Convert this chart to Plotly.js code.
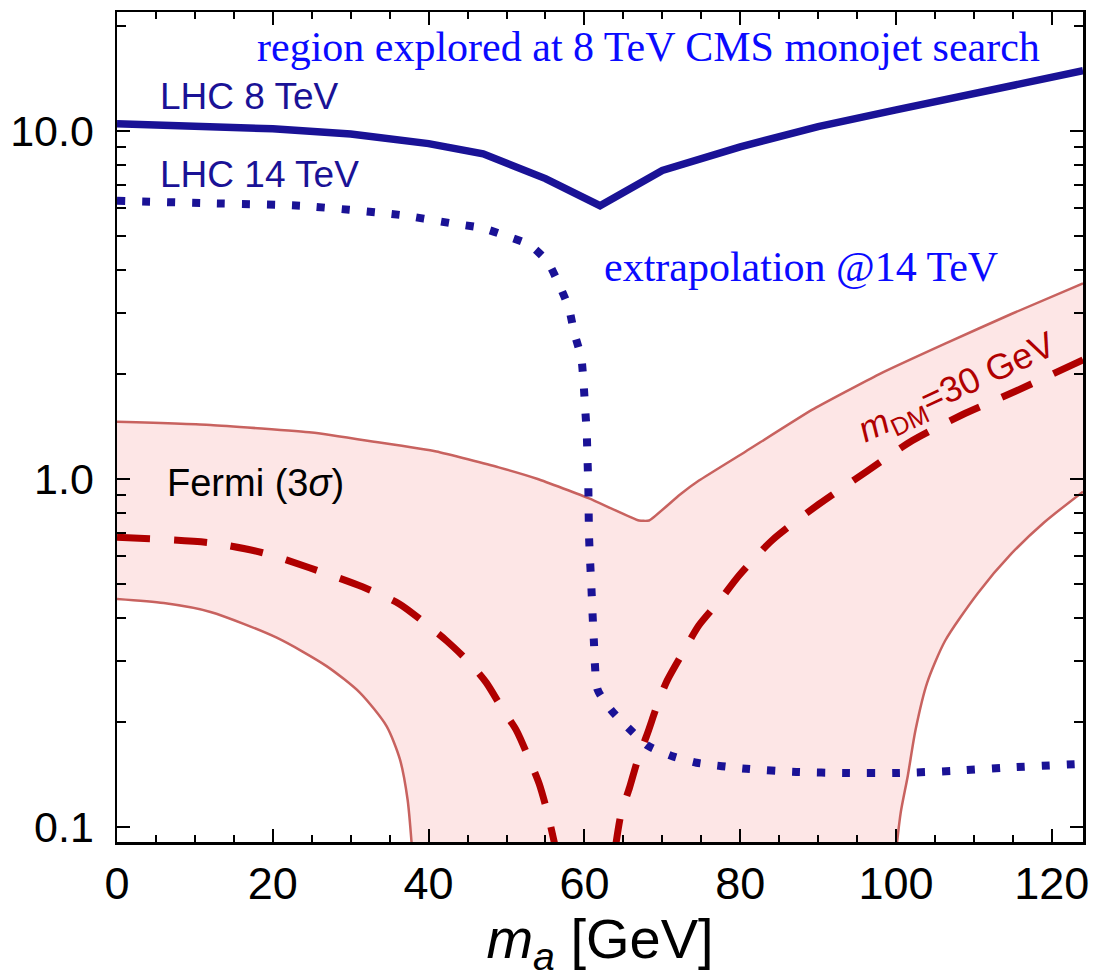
<!DOCTYPE html>
<html>
<head>
<meta charset="utf-8">
<script src="https://cdn.plot.ly/plotly-3.0.1.min.js"></script>
<style>html,body{margin:0;padding:0;background:#fff;}</style>
</head>
<body>
<div id="chart" style="width:1099px;height:978px;"></div>
<script>
// LHC 8 TeV monojet bound (solid)
const lhc8X = [0, 10, 20, 30, 40, 47, 55, 62, 70, 80, 90, 100, 110, 124];
const lhc8Y = [10.5, 10.35, 10.15, 9.8, 9.2, 8.6, 7.3, 6.1, 7.7, 9.0, 10.3, 11.5, 12.8, 14.9];

// LHC 14 TeV extrapolation (dotted)
const lhc14X = [0, 12, 23.5, 36.3, 42.7, 46.9, 50, 53, 55.3, 56.8, 58, 58.7, 59.6, 59.9, 60.1, 60.3, 60.4, 60.5, 60.6, 60.9, 61.2, 61.7, 63.5, 65.8, 68.2, 71.2, 74.4, 80.8, 87.2, 93.6, 100.4, 107.3, 113.7, 124];
const lhc14Y = [6.3, 6.2, 6.1, 5.74, 5.44, 5.26, 4.99, 4.7, 4.2, 3.6, 3.1, 2.63, 2.23, 1.87, 1.59, 1.35, 1.13, 0.955, 0.677, 0.486, 0.347, 0.248, 0.216, 0.191, 0.171, 0.16, 0.153, 0.147, 0.144, 0.143, 0.143, 0.145, 0.148, 0.152];

// Fermi (3 sigma) band: upper boundary, left of the kink and right of it
const bandUpLX = [0, 12, 25, 33, 41, 49, 54, 60.6, 67];
const bandUpLY = [1.46, 1.43, 1.36, 1.28, 1.2, 1.08, 1.0, 0.88, 0.76];
const bandUpRX = [68.3, 72.2, 74.7, 80.7, 89.2, 97.8, 106.3, 114.8, 124];
const bandUpRY = [0.76, 0.9, 0.99, 1.2, 1.58, 2.0, 2.45, 2.98, 3.65];

// Fermi band: lower boundary, left branch
const bandLowLX = [0, 6, 12, 20.5, 26.9, 31.2, 34.6, 36.3, 37.3, 37.9];
const bandLowLY = [0.452, 0.44, 0.415, 0.35, 0.29, 0.243, 0.195, 0.157, 0.12, 0.085];

// Fermi band: lower boundary, right branch
const bandLowRX = [100, 100.6, 101.5, 102.5, 104, 106.3, 110.5, 114.8, 119, 124];
const bandLowRY = [0.085, 0.11, 0.14, 0.19, 0.26, 0.343, 0.47, 0.61, 0.75, 0.92];

// m_DM = 30 GeV (dashed), left and right branches
const dmLX = [0, 11.9, 18.7, 24.7, 31.5, 36.3, 39.7, 42.3, 45.3, 47.4, 49.5, 51.3, 53, 54.2, 55.3, 56.4];
const dmLY = [0.68, 0.656, 0.614, 0.556, 0.49, 0.437, 0.383, 0.343, 0.296, 0.26, 0.218, 0.189, 0.155, 0.133, 0.109, 0.085];
const dmRX = [63.9, 64.7, 65.8, 66.8, 68.1, 69.4, 70.6, 72.6, 74.7, 77.3, 79.9, 84.1, 90.1, 96.2, 102.1, 108.5, 115.4, 124];
const dmRY = [0.085, 0.109, 0.13, 0.155, 0.186, 0.226, 0.263, 0.316, 0.38, 0.446, 0.53, 0.667, 0.847, 1.05, 1.29, 1.53, 1.79, 2.2];

// Axis ticks
const xTickVals = [0, 20, 40, 60, 80, 100, 120];
const xTickText = ["0", "20", "40", "60", "80", "100", "120"];
const yTickVals = [0.1, 1, 10];
const yTickText = ["0.1", "1.0", "10.0"];

const navy = "#1a1296";
const bandLine = "#c8625f";
const darkRed = "#b00000";

// Closed polygon for the band fill
const polyX = bandUpLX.concat(bandUpRX, bandLowRX.slice().reverse(), bandLowLX.slice().reverse());
const polyY = bandUpLY.concat(bandUpRY, bandLowRY.slice().reverse(), bandLowLY.slice().reverse());

const sm = {shape: "spline", smoothing: 0.7};
const traces = [
  {x: polyX, y: polyY, type: "scatter", mode: "lines", fill: "toself",
   fillcolor: "#fde6e6", line: {width: 0, color: "rgba(0,0,0,0)"}, hoverinfo: "skip"},
  {x: bandUpLX.concat(bandUpRX), y: bandUpLY.concat(bandUpRY), type: "scatter", mode: "lines",
   line: {color: bandLine, width: 2.5, shape: "spline", smoothing: 0.4}},
  {x: bandLowLX, y: bandLowLY, type: "scatter", mode: "lines", line: Object.assign({color: bandLine, width: 2.5}, sm)},
  {x: bandLowRX, y: bandLowRY, type: "scatter", mode: "lines", line: Object.assign({color: bandLine, width: 2.5}, sm)},
  {x: dmLX, y: dmLY, type: "scatter", mode: "lines", line: Object.assign({color: darkRed, width: 7, dash: "33px,24px"}, sm)},
  {x: dmRX, y: dmRY, type: "scatter", mode: "lines", line: Object.assign({color: darkRed, width: 7, dash: "33px,24px"}, sm)},
  {x: lhc14X, y: lhc14Y, type: "scatter", mode: "lines", line: {color: navy, width: 8, dash: "8px,17px", shape: "spline", smoothing: 0.6}},
  {x: lhc8X, y: lhc8Y, type: "scatter", mode: "lines", line: {color: navy, width: 7.5}}
];

const helv = "Liberation Sans, Arial, Helvetica, sans-serif";
const times = "Liberation Serif, Times New Roman, serif";

const layout = {
  width: 1099, height: 978,
  margin: {l: 117, r: 16, t: 12, b: 136},
  paper_bgcolor: "#ffffff", plot_bgcolor: "#ffffff",
  showlegend: false,
  xaxis: {
    range: [0, 124], showgrid: false, zeroline: false,
    showline: true, linecolor: "#000", linewidth: 2.5, mirror: "ticks",
    ticks: "inside", ticklen: 13, tickwidth: 2, tickcolor: "#000",
    tickvals: xTickVals, ticktext: xTickText,
    tickfont: {family: helv, size: 45, color: "#000"},
    minor: {dtick: 5, ticks: "inside", ticklen: 7, tickwidth: 2, tickcolor: "#000", showgrid: false},
    title: {text: "<i>m</i><sub><i>a</i></sub> [GeV]", font: {family: helv, size: 56, color: "#000"}, standoff: 10}
  },
  yaxis: {
    type: "log", range: [-1.043, 1.342], showgrid: false, zeroline: false,
    showline: true, linecolor: "#000", linewidth: 2.5, mirror: "ticks",
    ticks: "inside", ticklen: 13, tickwidth: 2, tickcolor: "#000",
    tickvals: yTickVals, ticktext: yTickText, ticklabelstandoff: 12,
    tickfont: {family: helv, size: 43, color: "#000"},
    minor: {dtick: "D1", ticks: "inside", ticklen: 9, tickwidth: 2, tickcolor: "#000", showgrid: false}
  },
  annotations: [
    {text: "region explored at 8 TeV CMS monojet search", x: 68.2, y: 1.241, xref: "x", yref: "y",
     showarrow: false, font: {family: times, size: 42, color: "#0a0aff"}},
    {text: "LHC 8 TeV", x: 5.2, y: 1.098, xref: "x", yref: "y", xanchor: "left",
     showarrow: false, font: {family: helv, size: 37, color: navy}},
    {text: "LHC 14 TeV", x: 5.2, y: 0.875, xref: "x", yref: "y", xanchor: "left",
     showarrow: false, font: {family: helv, size: 37, color: navy}},
    {text: "extrapolation @14 TeV", x: 62.3, y: 0.61, xref: "x", yref: "y", xanchor: "left",
     showarrow: false, font: {family: times, size: 42, color: "#0a0aff"}},
    {text: "Fermi (3<i>σ</i>)", x: 6.1, y: -0.012, xref: "x", yref: "y", xanchor: "left",
     showarrow: false, font: {family: helv, size: 38, color: "#000"}},
    {text: "<i>m</i><sub>DM</sub>=30 GeV", x: 107.8, y: 0.26, xref: "x", yref: "y", textangle: -25,
     showarrow: false, font: {family: helv, size: 36, color: darkRed}}
  ]
};

Plotly.newPlot("chart", traces, layout, {staticPlot: true, displayModeBar: false});
</script>
</body>
</html>
